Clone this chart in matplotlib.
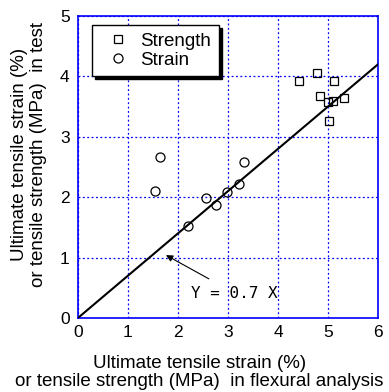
import matplotlib.pyplot as plt
import numpy as np

plt.rcParams["font.family"] = ["Liberation Sans", "DejaVu Sans"]

# --------------------------------------------------------
# Data
# --------------------------------------------------------

strength_x = [4.43, 4.79, 5.13, 4.84, 5.01, 5.11, 5.33, 5.02]
strength_y = [3.93, 4.05, 3.92, 3.68, 3.58, 3.59, 3.64, 3.27]

strain_x = [1.65, 1.54, 3.33, 2.57, 2.76, 2.99, 3.22, 2.20]
strain_y = [2.66, 2.11, 2.58, 1.98, 1.87, 2.09, 2.21, 1.53]

fit_x = [0, 6]
slope = 0.7

# --------------------------------------------------------
# Plot
# --------------------------------------------------------

fig = plt.figure(figsize=(3.89, 3.92), dpi=100)
ax = fig.add_axes([0.2005, 0.189, 0.771, 0.770])

ax.plot(fit_x, [slope * v for v in fit_x], color="black", lw=1.5, zorder=3)

ax.plot(strength_x, strength_y, ls="none", marker="s", ms=6, mfc="none",
        mec="black", mew=0.9, label="Strength", zorder=4)
ax.plot(strain_x, strain_y, ls="none", marker="o", ms=6.5, mfc="none",
        mec="black", mew=0.9, label="Strain", zorder=4)

ax.set_xlim(0, 6)
ax.set_ylim(0, 5)
ax.set_xticks(range(0, 7))
ax.set_yticks(range(0, 6))

ax.grid(True, color="blue", ls=(0, (1.5, 2)), lw=0.9)
for s in ax.spines.values():
    s.set_color("blue")
    s.set_linewidth(1.2)
ax.tick_params(direction="in", length=0, labelsize=12.5)
ax.tick_params(axis="x", pad=5)
ax.tick_params(axis="y", pad=6)

ax.annotate("Y = 0.7 X", xy=(1.76, 1.04), xytext=(2.27, 0.41),
            fontsize=11.5, family="DejaVu Sans Mono",
            va="center", ha="left",
            arrowprops=dict(arrowstyle="-|>", color="black", lw=0.8,
                            shrinkA=6, shrinkB=0, mutation_scale=10))

leg = ax.legend(loc="upper left", bbox_to_anchor=(0.046, 0.97),
                fontsize=13.5, frameon=True, fancybox=False,
                shadow={"color": "black", "alpha": 1},
                handletextpad=0.2, borderpad=0.4, labelspacing=0.1,
                handlelength=2.0, borderaxespad=0)
leg.get_frame().set_edgecolor("black")
leg.get_frame().set_linewidth(1.0)

fig.text(0.513, 0.05,
         "Ultimate tensile strain (%)\nor tensile strength (MPa)  in flexural analysis",
         fontsize=13.5, ha="center", va="center",
         multialignment="center", linespacing=1.08)
fig.text(0.074, 0.605, "Ultimate tensile strain (%)\nor tensile strength (MPa)  in test",
         rotation=90, fontsize=13.5, ha="center", va="center",
         multialignment="center", linespacing=1.12)

fig.savefig("out.png", dpi=100)
